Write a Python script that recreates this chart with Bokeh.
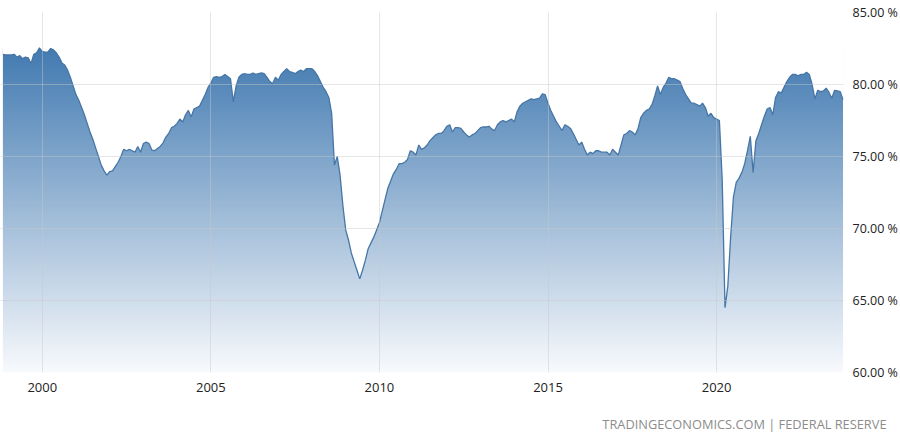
import numpy as np
import pandas as pd
from bokeh.plotting import figure
from bokeh.models import FixedTicker, Range1d, Title, CustomJSTickFormatter, NumeralTickFormatter
from bokeh.embed import file_html
from bokeh.resources import INLINE

start_month = "1998-11"
capacity_utilization = [
    82.1, 82.05,
    82.05, 82.05, 82.1, 81.9, 82.0, 81.8, 81.9, 81.85, 81.45, 82.1, 82.2, 82.55,
    82.3, 82.25, 82.25, 82.5, 82.4, 82.2, 81.9, 81.5, 81.35, 81.0, 80.5, 79.9,
    79.3, 78.9, 78.4, 77.9, 77.3, 76.7, 76.2, 75.6, 75.0, 74.4, 74.0, 73.7,
    73.95, 74.0, 74.3, 74.6, 75.0, 75.5, 75.4, 75.5, 75.4, 75.3, 75.7, 75.3,
    75.9, 76.0, 75.9, 75.45, 75.4, 75.55, 75.7, 75.95, 76.35, 76.6, 77.0, 77.1,
    77.3, 77.6, 77.4, 77.9, 78.2, 77.75, 78.3, 78.4, 78.5, 78.9, 79.3, 79.8,
    80.1, 80.5, 80.55, 80.5, 80.55, 80.7, 80.55, 80.4, 78.8, 79.9, 80.5, 80.7,
    80.75, 80.7, 80.7, 80.8, 80.7, 80.75, 80.8, 80.75, 80.5, 80.2, 80.05, 80.5,
    80.3, 80.7, 80.9, 81.1, 80.9, 80.85, 80.75, 80.9, 81.0, 80.9, 81.1, 81.1,
    81.1, 80.9, 80.6, 80.2, 79.8, 79.5, 79.1, 78.0, 74.4, 75.0, 73.7, 71.6,
    69.9, 69.2, 68.3, 67.7, 67.1, 66.5, 67.1, 67.8, 68.6, 69.0, 69.4, 69.9,
    70.4, 71.2, 72.0, 72.8, 73.3, 73.8, 74.1, 74.5, 74.5, 74.6, 74.8, 75.4,
    75.3, 75.1, 75.8, 75.5, 75.6, 75.8, 76.1, 76.3, 76.5, 76.6, 76.6, 76.8,
    77.1, 77.2, 76.7, 77.0, 77.0, 76.95, 76.7, 76.5, 76.35, 76.5, 76.6, 76.8,
    77.0, 77.05, 77.05, 77.1, 76.9, 76.8, 77.2, 77.4, 77.5, 77.4, 77.5, 77.6,
    77.4, 78.1, 78.5, 78.7, 78.8, 78.9, 79.0, 78.95, 79.0, 79.05, 79.35, 79.3,
    78.7, 78.2, 77.8, 77.4, 77.1, 76.8, 77.2, 77.1, 76.95, 76.6, 76.2, 75.8,
    76.0, 75.5, 75.1, 75.3, 75.2, 75.4, 75.4, 75.3, 75.3, 75.3, 75.1, 75.5,
    75.3, 75.1, 75.8, 76.5, 76.6, 76.8, 76.7, 76.5, 76.9, 77.7, 78.0, 78.2,
    78.3, 78.6, 79.2, 79.9, 79.3, 79.8, 80.1, 80.5, 80.4, 80.4, 80.3, 80.2,
    79.7, 79.3, 79.0, 78.7, 78.7, 78.6, 78.5, 78.7, 78.4, 77.8, 78.0, 77.7,
    77.6, 77.5, 73.4, 64.5, 66.0, 69.4, 72.2, 73.2, 73.5, 73.9, 74.5, 75.4,
    76.4, 73.9, 76.1, 76.6, 77.2, 77.8, 78.3, 78.4, 77.9, 79.1, 79.5, 79.4,
    79.8, 80.2, 80.5, 80.7, 80.7, 80.6, 80.7, 80.7, 80.85, 80.7, 80.0, 79.0,
    79.6, 79.5, 79.55, 79.75, 79.45, 79.05, 79.6, 79.55, 79.5, 78.95,
]
x_ticks = [2000, 2005, 2010, 2015, 2020]
y_ticks = [60, 65, 70, 75, 80, 85]
source_text = "TRADINGECONOMICS.COM | FEDERAL RESERVE"

dates = pd.date_range(start=start_month, periods=len(capacity_utilization), freq="MS")
t = (dates.year + (dates.month - 1) / 12.0).to_numpy(dtype=float)
v = np.array(capacity_utilization, dtype=float)

FONT = "Open Sans"

p = figure(width=900, height=433, output_backend="svg", toolbar_location=None,
           x_range=Range1d(1998.762, 2023.764), y_range=Range1d(60, 85),
           y_axis_location="right", min_border_left=0, min_border_top=12,
           min_border_right=57, min_border_bottom=60,
           background_fill_color="white", border_fill_color="white")
p.outline_line_color = None

# gradient fill under the line: vertical gradient image masked by white area above line
N = 256
top_rgb = np.array([66, 122, 177], dtype=float)
bot_rgb = np.array([248, 250, 253], dtype=float)
img = np.empty((N, 1), dtype=np.uint32)
view = img.view(dtype=np.uint8).reshape((N, 1, 4))
frac = np.linspace(0, 1, N)[:, None]
cols = bot_rgb[None, :] + (top_rgb - bot_rgb)[None, :] * frac
view[:, 0, 0] = cols[:, 0]
view[:, 0, 1] = cols[:, 1]
view[:, 0, 2] = cols[:, 2]
view[:, 0, 3] = 255
ymin = p.y_range.start
ymax = float(v.max())
p.image_rgba(image=[img], x=t[0], y=ymin, dw=t[-1] - t[0], dh=ymax - ymin)
p.varea(x=t, y1=v, y2=p.y_range.end, fill_color="white")
p.line(t, v, line_color="#4676a6", line_width=1.3)

p.xaxis.ticker = FixedTicker(ticks=x_ticks)
p.yaxis.ticker = FixedTicker(ticks=y_ticks)
p.xaxis.formatter = NumeralTickFormatter(format="0")
p.yaxis.formatter = CustomJSTickFormatter(code="return tick.toFixed(2) + ' %';")
for ax in (p.xaxis[0], p.yaxis[0]):
    ax.axis_line_color = None
    ax.major_tick_line_color = None
    ax.minor_tick_line_color = None
    ax.major_label_text_font = FONT
    ax.major_label_text_color = "#222222"
p.xaxis.major_label_text_font_size = "13px"
p.yaxis.major_label_text_font_size = "12.5px"
p.xaxis.major_label_standoff = 4
p.yaxis.major_label_standoff = 3

for g in (p.xgrid[0], p.ygrid[0]):
    g.grid_line_color = "#c8c8c8"
    g.grid_line_alpha = 0.45
    g.level = "overlay"
p.xgrid.ticker = FixedTicker(ticks=x_ticks)
p.ygrid.ticker = FixedTicker(ticks=y_ticks)

# blank spacer between the x axis and the source line
p.add_layout(Title(text=" ", standoff=1, text_font=FONT, text_font_size="10px"), "below")
p.add_layout(Title(text=source_text, align="right", offset=-43, standoff=2,
                   text_font=FONT, text_font_size="12.8px", text_font_style="normal",
                   text_color="#8c8c8c"), "below")

open("out.html", "w").write(file_html(p, INLINE))
